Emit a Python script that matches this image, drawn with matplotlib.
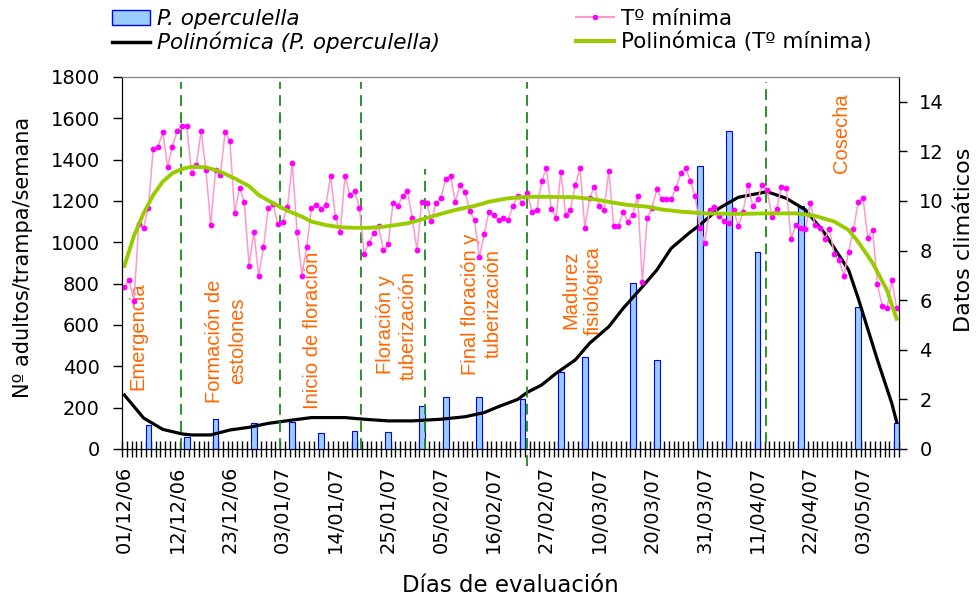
import matplotlib
matplotlib.use("Agg")
import matplotlib.pyplot as plt
from matplotlib.patches import Patch
from matplotlib.lines import Line2D

# eje x: un día de evaluación por categoría
n_dias = 162
fechas_idx = [0, 11, 22, 33, 44, 55, 66, 77, 88, 99, 110, 121, 132, 143, 154]
fechas = ["01/12/06", "12/12/06", "23/12/06", "03/01/07", "14/01/07",
          "25/01/07", "05/02/07", "16/02/07", "27/02/07", "10/03/07",
          "20/03/07", "31/03/07", "11/04/07", "22/04/07", "03/05/07"]

# capturas semanales de P. operculella (adultos/trampa/semana)
capt_idx = [5, 13, 19, 27, 35, 41, 48, 55, 62, 67, 74, 83, 91, 96, 106,
            111, 120, 126, 132, 141, 153, 161]
capt_val = [116, 60, 145, 126, 131, 77, 87, 82, 208, 252, 252, 242, 372,
            445, 803, 431, 1370, 1539, 953, 1175, 687, 125]

# temperatura mínima diaria (ºC)
t_min = [
    6.55, 6.81, 5.97, 9.06, 8.93, 9.73, 12.08, 12.19, 12.77, 11.39,
    12.19, 12.84, 13.04, 13.04, 11.12, 11.45, 12.82, 11.25, 9.03, 11.25,
    11.04, 12.77, 12.42, 9.50, 10.54, 9.97, 7.39, 8.76, 6.99, 8.13,
    9.73, 9.87, 9.06, 9.17, 9.75, 11.52, 8.76, 6.99, 8.13, 9.73,
    9.84, 9.68, 9.84, 11.01, 9.34, 8.76, 11.01, 10.24, 10.42, 9.73,
    7.86, 8.32, 8.70, 8.99, 8.02, 8.25, 9.91, 9.80, 10.20, 10.42,
    9.33, 8.02, 9.97, 9.91, 9.21, 9.91, 10.13, 10.87, 11.01, 9.97,
    10.65, 10.38, 9.61, 9.23, 7.73, 8.66, 9.57, 9.44, 9.23, 9.33,
    9.23, 9.80, 10.20, 9.91, 10.31, 9.57, 9.64, 10.82, 11.32, 9.68,
    9.33, 11.16, 9.44, 9.64, 10.65, 11.32, 8.93, 10.13, 10.58, 9.80,
    9.64, 11.22, 8.99, 8.99, 9.57, 9.17, 9.44, 10.20, 6.75, 9.30,
    9.73, 10.47, 10.07, 10.07, 10.07, 10.51, 11.12, 11.32, 10.82, 10.20,
    8.90, 8.32, 9.64, 9.77, 9.40, 9.19, 9.10, 9.64, 8.99, 9.57,
    10.65, 9.80, 10.07, 10.65, 10.44, 9.37, 9.68, 10.58, 10.51, 8.47,
    9.03, 8.90, 8.87, 9.91, 9.03, 8.93, 8.47, 8.87, 7.85, 7.62,
    6.99, 7.96, 8.87, 9.95, 10.11, 8.52, 8.83, 6.64, 5.77, 5.68,
    6.81, 5.70,
]

# tendencia polinómica de las capturas
tend_capt_idx = [0, 4, 8, 12, 14, 18, 22, 26, 30, 35, 39, 46, 50, 55, 60,
                 66, 71, 75, 78, 82, 84, 87, 90, 94, 97, 101, 104, 108, 111,
                 114, 118, 120, 124, 128, 134, 138, 142, 146, 151, 153, 157,
                 160, 161]
tend_capt_val = [261, 150, 95, 73, 68, 68, 92, 105, 124, 140, 152, 152, 144,
                 136, 136, 144, 156, 176, 205, 240, 274, 310, 366, 431, 512,
                 592, 681, 785, 866, 971, 1050, 1084, 1165, 1218, 1245, 1213,
                 1157, 1044, 866, 729, 431, 221, 132]

# tendencia polinómica de la Tº mínima
tend_t_idx = [0, 2, 4, 6, 8, 10, 12, 14, 17, 20, 23, 26, 28, 31, 34, 37, 39,
              42, 45, 48, 51, 54, 59, 62, 66, 69, 73, 76, 80, 84, 88, 94, 98,
              102, 105, 109, 112, 116, 121, 128, 134, 140, 144, 148, 151, 153,
              156, 159, 161]
tend_t_val = [7.38, 8.6, 9.5, 10.24, 10.78, 11.12, 11.29, 11.38, 11.36, 11.18,
              10.91, 10.6, 10.24, 9.91, 9.61, 9.37, 9.17, 9.03, 8.94, 8.92,
              8.92, 8.96, 9.1, 9.26, 9.48, 9.64, 9.8, 9.97, 10.11, 10.17,
              10.17, 10.15, 10.07, 9.93, 9.84, 9.77, 9.66, 9.57, 9.5, 9.48,
              9.5, 9.5, 9.4, 9.17, 8.83, 8.35, 7.5, 6.4, 5.25]

# fases del cultivo
fases = ["Emergencia", "Formación de\nestolones", "Inicio de floración",
         "Floración y\ntuberización", "Final floración y\ntuberización",
         "Madurez\nfisiológica", "Cosecha"]

W, H = 976, 596
fig = plt.figure(figsize=(W / 100, H / 100), dpi=100)
ax = fig.add_axes([122 / W, 1 - 449 / H, (899 - 122) / W, (449 - 77) / H])
ax2 = ax.twinx()

ax.bar(capt_idx, capt_val, width=1.2, color="#99ccff", edgecolor="#0000ff",
       linewidth=0.8, zorder=2)
ax.plot(tend_capt_idx, tend_capt_val, color="black", lw=2.3, zorder=3)

ax2.plot(range(n_dias), t_min, color="#ff99cc", lw=1.1, marker="o",
         markersize=4.2, markerfacecolor="#ff00ff", markeredgewidth=0)
ax2.plot(tend_t_idx, tend_t_val, color="#99cc00", lw=2.8)

ax.set_xlim(-0.5, n_dias - 0.5)
ax.set_ylim(0, 1800)
ax2.set_ylim(0, 15)
ax.set_yticks(range(0, 1801, 200))
ax2.set_yticks(range(0, 15, 2))

ax.set_xticks(fechas_idx)
ax.set_xticklabels(fechas, rotation=90, fontsize=14)
ax.set_xticks([k - 0.5 for k in range(n_dias + 1)], minor=True)
ax.tick_params(axis="x", which="major", length=0, pad=12)
ax.tick_params(axis="x", which="minor", direction="inout", length=11.5,
               width=1.0, color="black")
ax.tick_params(axis="y", direction="out", length=6.5, width=1, labelsize=14,
               pad=9.4)
ax2.tick_params(axis="y", direction="out", length=6, width=1, labelsize=14,
                pad=8.6)

for a in (ax, ax2):
    a.spines["top"].set_color("#808080")
    a.spines["left"].set_color("black")
    a.spines["bottom"].set_color("black")
    a.spines["right"].set_color("black")

# líneas verticales de las fases (posición, y inferior, y superior)
lineas = [(11.74, 0.0, 0.987), (32.5, 0.0, 0.987), (49.3, 0.0, 0.987),
          (62.7, 0.0, 0.753), (84.0, -0.045, 0.987), (133.8, 0.016, 0.987)]
for xl, y0, y1 in lineas:
    ax.plot([xl, xl], [y0, y1], transform=ax.get_xaxis_transform(),
            color="#1a8a1a", lw=1.3, ls=(0, (6, 3.5)), clip_on=False, zorder=4)

# textos de las fases
pos_fases = [(2.84, 0.304), (21.2, 0.29), (39.3, 0.32), (56.8, 0.333),
             (74.6, 0.39), (95.4, 0.427), (149.6, 0.849)]
for txt, (xt, yt) in zip(fases, pos_fases):
    ax.text(xt, yt, txt, transform=ax.get_xaxis_transform(), rotation=90,
            ha="center", va="center", multialignment="center",
            color="#ff6600", fontsize=14.5, family="Liberation Sans",
            linespacing=1.25, zorder=5)

fig.text(23 / W, 1 - 257 / H, "Nº adultos/trampa/semana", rotation=90,
         ha="center", va="center", fontsize=15)
fig.text(964 / W, 1 - 240 / H, "Datos climáticos", rotation=90,
         ha="center", va="center", fontsize=16)
fig.text(510 / W, 1 - 585 / H, "Días de evaluación", ha="center",
         va="center", fontsize=16.5)

handles = [
    Patch(facecolor="#99ccff", edgecolor="#0000ff", linewidth=1),
    Line2D([], [], color="black", lw=2.5),
    Line2D([], [], color="#ff99cc", lw=1.5, marker="o", markersize=4,
           markerfacecolor="#ff00ff", markeredgewidth=0),
    Line2D([], [], color="#99cc00", lw=3),
]
labels = ["P. operculella", "Polinómica (P. operculella)", "Tº mínima",
          "Polinómica (Tº mínima)"]
leg = fig.legend(handles, labels, loc="upper left",
                 bbox_to_anchor=(112 / W, 1 - 9 / H), ncol=2, frameon=False,
                 fontsize=15.5, handlelength=1.75, handletextpad=0.35,
                 columnspacing=6.3, labelspacing=0.12, borderpad=0,
                 borderaxespad=0)
for t in leg.get_texts()[:2]:
    t.set_style("italic")

fig.savefig("out.png", dpi=100)
